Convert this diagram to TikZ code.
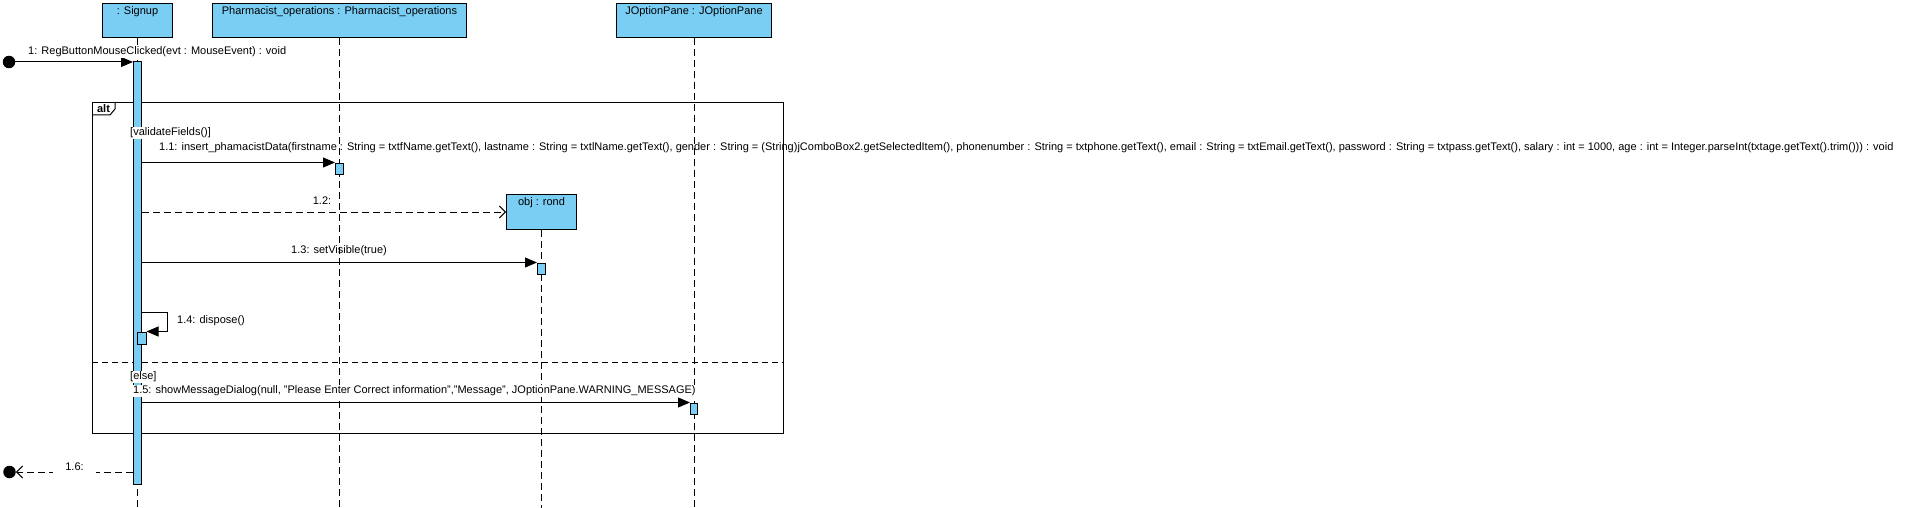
\documentclass[tikz,border=0pt]{standalone}
\usepackage{fontspec}
\setmainfont{Liberation Sans}
\usetikzlibrary{arrows.meta}
\definecolor{vpblue}{RGB}{122,206,243}
\begin{document}
\begin{tikzpicture}[x=1pt,y=-1pt,
  every node/.style={font=\fontsize{11}{13}\selectfont},
  head/.style={draw=black, fill=vpblue, line width=1pt, minimum height=34pt, anchor=north west, inner sep=0pt},
  hdtext/.style={anchor=north, inner sep=0pt, yshift=-3pt},
  bar/.style={draw=black, fill=vpblue, minimum width=8pt, inner sep=0pt, line width=1pt},
  life/.style={dash pattern=on 7pt off 4pt, line width=1pt},
  sync/.style={-{Triangle[length=12pt,width=10pt]}, line width=1pt},
  ret/.style={dash pattern=on 7pt off 4pt, -{Straight Barb[length=6pt,width=12pt]}, line width=1pt},
  lbl/.style={inner sep=1pt, fill=white, anchor=west},
  nlbl/.style={inner sep=1pt, anchor=west},
  dot/.style={circle, fill=black, inner sep=0pt, minimum size=12.5pt},
]
\useasboundingbox (0,0) rectangle (1910,508);

% lifeline heads
\node[head, minimum width=70pt, label={[hdtext]north:: Signup}] (signup) at (102,3) {};
\node[head, minimum width=254pt, label={[hdtext]north:Pharmacist\_operations : Pharmacist\_operations}] (pharm) at (212,3) {};
\node[head, minimum width=155pt, label={[hdtext]north:JOptionPane : JOptionPane}] (jop) at (616,3) {};
\node[head, minimum width=70pt, minimum height=35pt, label={[hdtext]north:obj : rond}] (obj) at (506,194) {};

% lifeline ends
\coordinate (signupEnd) at (signup.south |- 0,508);
\coordinate (pharmEnd) at (pharm.south |- 0,508);
\coordinate (jopEnd) at (jop.south |- 0,508);
\coordinate (objEnd) at (obj.south |- 0,508);

\draw[life] (signup.south) -- (signupEnd);
\draw[life] (pharm.south) -- (pharmEnd);
\draw[life] (jop.south) -- (jopEnd);
\draw[life] (obj.south) -- (objEnd);

% combined fragment
\node[draw, line width=1pt, minimum width=691pt, minimum height=331pt, anchor=north west, inner sep=0pt] (alt) at (92,102) {};
\draw[line width=1pt] (alt.north west) ++(0,13) -- ++(18,0) -- ++(5,-6) -- ++(0,-7);
\node[inner sep=0pt, font=\fontsize{11}{13}\selectfont\bfseries] (alttab) at (103.5,109) {alt};
\coordinate (elseL) at (alt.west |- 0,362);
\coordinate (elseR) at (alt.east |- 0,362);
\draw[dash pattern=on 6pt off 4pt, line width=1pt] (elseL) -- (elseR);

% activation bars
\node[bar, minimum height=422pt] (sbar) at (signup.south |- 0,273) {};
\node[bar, minimum height=11pt] (pbar) at (pharm.south |- 0,168.5) {};
\node[bar, minimum height=11pt] (obar) at (obj.south |- 0,268.5) {};
\node[bar, minimum height=11pt, minimum width=7pt] (jbar) at (jop.south |- 0,408.5) {};
\node[bar, minimum height=12pt, minimum width=9pt] (dbar) at (141.5,338) {};

% found / lost endpoints
\node[dot] (start) at (9,62) {};
\node[dot] (finish) at (9.5,472) {};

% message 1
\draw[sync] (start) -- (start -| sbar.west);
\node[lbl] (m1) at (27,52) {1: RegButtonMouseClicked(evt : MouseEvent) : void};

% guards
\node[lbl] (g1) at (129,133) {[validateFields()]};
\node[lbl] (g2) at (129,377) {[else]};

% 1.1
\draw[sync] (sbar.east |- pbar.north) -- (pbar.north west);
\node[nlbl] (m11) at (158,148) {1.1: insert\_phamacistData(firstname : String = txtfName.getText(), lastname : String = txtlName.getText(), gender : String = (String)jComboBox2.getSelectedItem(), phonenumber : String = txtphone.getText(), email : String = txtEmail.getText(), password : String = txtpass.getText(), salary : int = 1000, age : int = Integer.parseInt(txtage.getText().trim())) : void};

% 1.2
\draw[ret] (sbar.east |- obj.west) -- (obj.west);
\node[nlbl, anchor=center] (m12) at (322,201) {1.2:};

% 1.3
\draw[sync] (sbar.east |- obar.north) -- (obar.north west);
\node[nlbl, anchor=center] (m13) at (339,251) {1.3: setVisible(true)};

% 1.4 self message
\coordinate (loopR) at (167,312);
\draw[sync] (sbar.east |- loopR) -- (loopR) |- (dbar.north east);
\node[nlbl] (m14) at (176,321) {1.4: dispose()};

% 1.5
\draw[sync] (sbar.east |- jbar.north) -- (jbar.north west);
\node[lbl] (m15) at (132,391) {1.5: showMessageDialog(null, "Please Enter Correct information","Message", JOptionPane.WARNING\_MESSAGE)};

% 1.6
\draw[ret] (sbar.west |- finish) -- (finish);
\node[fill=white, inner sep=0pt, minimum width=43pt, minimum height=14pt] (m16) at (74.5,467) {1.6:};
\end{tikzpicture}
\end{document}
